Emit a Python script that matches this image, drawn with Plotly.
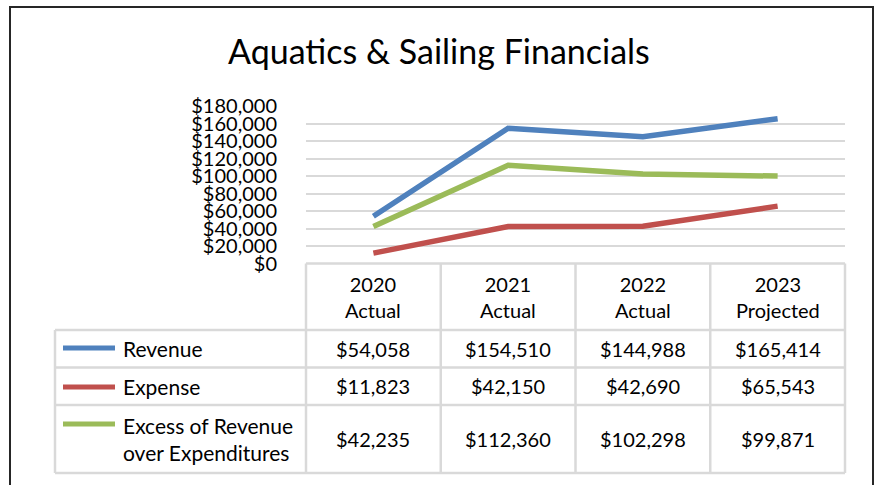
import plotly.graph_objects as go

# ---- data ----
categories = ["2020 Actual", "2021 Actual", "2022 Actual", "2023 Projected"]
category_labels = ["2020<br>Actual", "2021<br>Actual", "2022<br>Actual", "2023<br>Projected"]
revenue = [54058, 154510, 144988, 165414]
expense = [11823, 42150, 42690, 65543]
excess = [42235, 112360, 102298, 99871]
series_names = ["Revenue", "Expense", "Excess of Revenue<br>over Expenditures"]
series_values = [revenue, expense, excess]
series_colors = ["#4F81BD", "#C0504D", "#9BBB59"]
y_ticks = list(range(0, 180001, 20000))
y_tick_text = [f"${v:,}" for v in y_ticks]

# ---- layout helpers (screen pixel -> paper) ----
W, H = 876, 485
def px(x):
    return x / W
def py(y):
    return 1 - y / H

FONT = "Lato, Calibri, Carlito, sans-serif"
GRID = "#D9D9D9"
TXT = "#000000"

plot_left, plot_right = 306, 845
plot_top, plot_bottom = 106, 263.5

fig = go.Figure()
for name, vals, col in zip(series_names, series_values, series_colors):
    fig.add_trace(go.Scatter(
        x=categories, y=vals, mode="lines", name=name.replace("<br>", " "),
        line=dict(color=col, width=5.5), showlegend=False, hoverinfo="x+y",
    ))

# table geometry (pixel rows)
header_top = 263.5
row_edges = [330, 367.5, 405, 473]
legend_left = 55
col_edges_px = [plot_left + (plot_right - plot_left) * i / len(categories) for i in range(len(categories) + 1)]

shapes = []
# outer frame
shapes.append(dict(type="rect", xref="paper", yref="paper",
                   x0=px(10), x1=px(873), y0=py(7), y1=py(530),
                   line=dict(color="#262626", width=2), fillcolor="rgba(0,0,0,0)", layer="above"))
# horizontal table lines
shapes.append(dict(type="line", xref="paper", yref="paper", x0=px(plot_left), x1=px(plot_right),
                   y0=py(header_top), y1=py(header_top), line=dict(color=GRID, width=2.5)))
for ry in row_edges:
    shapes.append(dict(type="line", xref="paper", yref="paper", x0=px(legend_left), x1=px(plot_right),
                       y0=py(ry), y1=py(ry), line=dict(color=GRID, width=2.5)))
# vertical table lines
shapes.append(dict(type="line", xref="paper", yref="paper", x0=px(legend_left), x1=px(legend_left),
                   y0=py(row_edges[0]), y1=py(row_edges[-1]), line=dict(color=GRID, width=2.5)))
for cx in col_edges_px:
    shapes.append(dict(type="line", xref="paper", yref="paper", x0=px(cx), x1=px(cx),
                       y0=py(header_top), y1=py(row_edges[-1]), line=dict(color=GRID, width=2.5)))

annotations = []
# header labels
hdr_center = (header_top + row_edges[0]) / 2
for cat, lab in zip(categories, category_labels):
    annotations.append(dict(x=cat, xref="x", y=py(hdr_center), yref="paper", text=lab,
                            showarrow=False, font=dict(family=FONT, size=20, color=TXT),
                            xanchor="center", yanchor="middle", align="center"))
# rows
legend_line_y = [348, 387, 424]
for r, (name, vals, col) in enumerate(zip(series_names, series_values, series_colors)):
    top, bot = row_edges[r], row_edges[r + 1]
    mid = (top + bot) / 2
    for cat, v in zip(categories, vals):
        annotations.append(dict(x=cat, xref="x", y=py(mid), yref="paper", text=f"${v:,}",
                                showarrow=False, font=dict(family=FONT, size=20, color=TXT),
                                xanchor="center", yanchor="middle"))
    annotations.append(dict(x=px(121), xref="paper", y=py(mid), yref="paper", text=name,
                            showarrow=False, font=dict(family=FONT, size=21, color=TXT),
                            xanchor="left", yanchor="middle", align="left"))
    shapes.append(dict(type="line", xref="paper", yref="paper", x0=px(63), x1=px(115),
                       y0=py(legend_line_y[r]), y1=py(legend_line_y[r]),
                       line=dict(color=col, width=5)))

# title
annotations.append(dict(x=px(439.5), xref="paper", y=py(51), yref="paper",
                        text="Aquatics &amp; Sailing Financials", showarrow=False,
                        font=dict(family=FONT, size=34, color=TXT),
                        xanchor="center", yanchor="middle"))

fig.update_layout(
    template="none",
    width=W, height=H,
    margin=dict(l=0, r=0, t=0, b=0, pad=0, autoexpand=False),
    paper_bgcolor="white", plot_bgcolor="white",
    font=dict(family=FONT, size=20, color=TXT),
    xaxis=dict(domain=[px(plot_left), px(plot_right)], type="category",
               range=[-0.5, len(categories) - 0.5], showticklabels=False, automargin=False,
               showgrid=False, zeroline=False, showline=False, ticks=""),
    yaxis=dict(domain=[py(plot_bottom), py(plot_top)], range=[0, 180000],
               tickmode="array", tickvals=y_ticks, ticktext=y_tick_text, automargin=False,
               showgrid=True, gridcolor=GRID, gridwidth=2, zeroline=False, showline=False,
               ticks="", ticklabelstandoff=28,
               tickfont=dict(family=FONT, size=20, color=TXT)),
    shapes=shapes, annotations=annotations,
    showlegend=False,
)

fig.write_html(
    "out.html",
    config={"responsive": False, "displayModeBar": False},
    post_script="document.body.style.margin='0';document.body.style.overflow='hidden';",
)
